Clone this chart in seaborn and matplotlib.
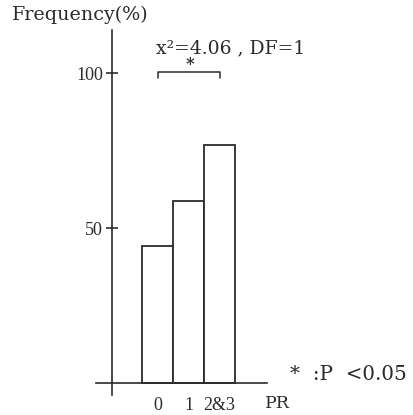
import seaborn as sns
import matplotlib.pyplot as plt
import pandas as pd

# values
pr_groups = ["0", "1", "2&3"]
frequency = [44.2, 58.7, 76.8]
y_ticks = [50, 100]
stat_text = "x\u00b2=4.06 , DF=1"
note_text = "*  :P  <0.05"

df = pd.DataFrame({"PR": pr_groups, "freq": frequency})

sns.set_style("white")
plt.rcParams["font.family"] = ["Liberation Serif", "DejaVu Serif"]
plt.rcParams["font.size"] = 13
label_font = ["DejaVu Serif", "Liberation Serif"]

ink = "#2b2b2b"
fig = plt.figure(figsize=(4.13, 4.15), dpi=100)
ax = fig.add_axes([0, 0, 1, 1])

sns.barplot(data=df, x="PR", y="freq", order=pr_groups, width=1.0,
            facecolor="white", edgecolor=ink, linewidth=1.3, ax=ax)

# pixel-matched limits
ax.set_xlim(-5.081, 8.242)
ax.set_ylim(-10.32, 123.55)

for s in ["top", "right"]:
    ax.spines[s].set_visible(False)
ax.spines["left"].set_position(("data", -1.47))
ax.spines["bottom"].set_position(("data", 0))
ax.spines["left"].set_bounds(-3.9, 113.9)
ax.spines["bottom"].set_bounds(-2.0, 3.53)
for s in ["left", "bottom"]:
    ax.spines[s].set_color(ink)
    ax.spines[s].set_linewidth(1.2)

ax.set_yticks(y_ticks)
ax.set_yticklabels([str(t) for t in y_ticks], color=ink)
ax.tick_params(axis="y", left=True, direction="inout", length=9, width=1.2,
               color=ink, pad=2)
ax.set_xticks(range(len(pr_groups)))
ax.set_xticklabels(pr_groups, color=ink)
ax.tick_params(axis="x", bottom=False, length=0, pad=10)
ax.set_xlabel("")
ax.set_ylabel("")

# significance bracket between group 0 and 2&3
ax.plot([0, 0, 2, 2], [98.4, 100.3, 100.3, 98.4], color=ink, lw=1.1)
ax.text(1.05, 102.8, "*", ha="center", va="center", fontsize=12, color=ink,
        family=label_font, fontweight="bold")
ax.text(-0.05, 108, stat_text, ha="left", va="center", color=ink,
        fontsize=13.5, family=label_font)

ax.text(-4.69, 118.7, "Frequency(%)", ha="left", va="center", color=ink,
        fontsize=13.8, family=label_font)
ax.text(3.47, -6.45, "PR", ha="left", va="center", color=ink,
        fontsize=12.5, family=label_font)
ax.text(4.27, 2.7, note_text, ha="left", va="center", color=ink,
        fontsize=14.3, family=label_font)

fig.savefig("out.png", dpi=100)
